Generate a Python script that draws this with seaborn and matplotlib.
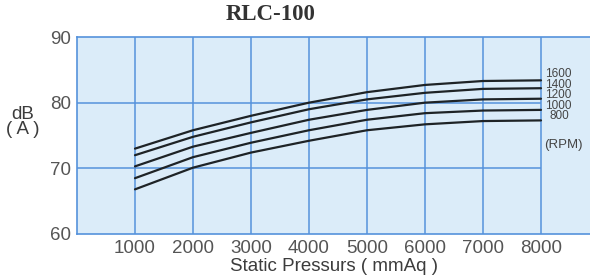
import matplotlib
matplotlib.use("Agg")
import matplotlib.pyplot as plt
import seaborn as sns
import pandas as pd

pressure = [1000, 2000, 3000, 4000, 5000, 6000, 7000, 8000]
rpm_labels = ["1600", "1400", "1200", "1000", "800"]
db_1600 = [73.0, 75.8, 78.0, 80.0, 81.6, 82.7, 83.3, 83.4]
db_1400 = [72.0, 74.8, 77.0, 79.0, 80.5, 81.5, 82.1, 82.2]
db_1200 = [70.3, 73.3, 75.4, 77.4, 78.9, 80.0, 80.5, 80.6]
db_1000 = [68.5, 71.7, 73.9, 75.8, 77.4, 78.4, 78.8, 78.9]
db_800 = [66.8, 70.1, 72.4, 74.2, 75.8, 76.7, 77.2, 77.3]
x_ticks = [1000, 2000, 3000, 4000, 5000, 6000, 7000, 8000]
y_ticks = [60, 70, 80, 90]

series = [db_1600, db_1400, db_1200, db_1000, db_800]
rows = []
for lab, vals in zip(rpm_labels, series):
    for p, v in zip(pressure, vals):
        rows.append({"pressure": p, "db": v, "rpm": lab})
df = pd.DataFrame(rows)

sns.set_theme(style="white")
plt.rcParams['font.family'] = ['Liberation Sans', 'DejaVu Sans']

fig = plt.figure(figsize=(5.9, 2.76), dpi=100)
ax = fig.add_axes([77/590, 1-234/276, 1-77/590, (234-37)/276])
bg = "#dbecf9"
grid = "#5592dc"
ax.set_facecolor(bg)

ax.set_xlim(0, 8845)
ax.set_ylim(60, 90)

for xv in x_ticks:
    ax.axvline(xv, color=grid, lw=1.1, zorder=1)
for yv in y_ticks[1:-1]:
    ax.hlines(yv, 0, 8000, color=grid, lw=1.1, zorder=1)

sns.lineplot(data=df, x="pressure", y="db", hue="rpm",
             palette=["#1e2326"] * 5, linewidth=1.6, legend=False,
             ax=ax, zorder=3)

for side in ["top", "bottom", "left"]:
    ax.spines[side].set_color(grid)
    ax.spines[side].set_linewidth(1.2)
ax.spines["right"].set_visible(False)

ax.set_xticks(x_ticks)
ax.set_xticklabels([str(v) for v in x_ticks])
ax.set_yticks(y_ticks)
ax.set_yticklabels([str(v) for v in y_ticks])
ax.tick_params(axis="both", length=0, labelsize=13.5, colors="#555555", pad=4)
ax.tick_params(axis="x", pad=4)

ax.set_xlabel("Static Pressurs ( mmAq )", fontsize=13.5, color="#3c3c3c", labelpad=1)
ax.set_ylabel("")

fig.text(271/590, 1-15/276, "RLC-100", family="Liberation Serif", fontweight="bold",
         fontsize=16.5, color="#333333", ha="center", va="center")
fig.text(23/590, 1-122/276, "dB\n( A )", fontsize=13.5, color="#3c3c3c",
         ha="center", va="center", linespacing=0.85)

label_y = [84.3, 82.7, 81.1, 79.5, 77.9]
for lab, yv in zip(rpm_labels, label_y):
    xpos = 8070 if lab != "800" else 8140
    ax.text(xpos, yv, lab, fontsize=8.5, color="#444444", ha="left", va="center",
            zorder=4, clip_on=False)
ax.text(8050, 73.5, "(RPM)", fontsize=9.5, color="#444444", ha="left", va="center")

fig.savefig("out.png", dpi=100)
